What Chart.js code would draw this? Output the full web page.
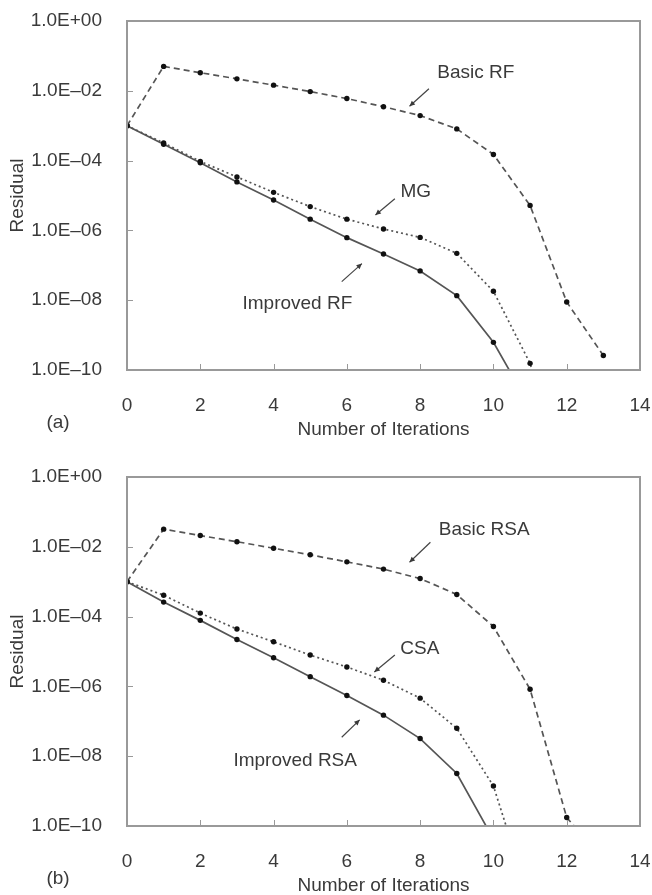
<!DOCTYPE html>
<html>
<head>
<meta charset="utf-8">
<script src="https://cdn.jsdelivr.net/npm/chart.js@4.4.0/dist/chart.umd.min.js"></script>
<style>
  html, body { margin: 0; padding: 0; background: #fff; }
  .panel { position: absolute; left: 0; width: 652px; }
</style>
</head>
<body>
<div class="panel" style="top:0;height:440px"><canvas id="chartA"></canvas></div>
<div class="panel" style="top:456px;height:439px"><canvas id="chartB"></canvas></div>
<script>
// iteration number on the x axis
const iterations = [0, 1, 2, 3, 4, 5, 6, 7, 8, 9, 10, 11, 12, 13];
const xTicks = [0, 2, 4, 6, 8, 10, 12, 14];
const yTicks = [1e0, 1e-2, 1e-4, 1e-6, 1e-8, 1e-10];
const yTickLabels = ['1.0E+00', '1.0E–02', '1.0E–04', '1.0E–06', '1.0E–08', '1.0E–10'];

// (a) residuals
const basicRF = [1e-3, 5.0e-2, 3.3e-2, 2.2e-2, 1.45e-2, 9.5e-3, 6.0e-3, 3.5e-3, 1.95e-3, 8.1e-4, 1.5e-4, 5.2e-6, 8.9e-9, 2.6e-10];
const mgRF = [1e-3, 3.2e-4, 9.5e-5, 3.4e-5, 1.23e-5, 4.8e-6, 2.1e-6, 1.1e-6, 6.3e-7, 2.2e-7, 1.8e-8, 1.55e-10, 2.5e-14];
const improvedRF = [1e-3, 2.95e-4, 8.7e-5, 2.45e-5, 7.4e-6, 2.1e-6, 6.2e-7, 2.1e-7, 6.9e-8, 1.35e-8, 6.2e-10, 9e-12];

// (b) residuals
const basicRSA = [1e-3, 3.2e-2, 2.1e-2, 1.4e-2, 9.1e-3, 5.9e-3, 3.7e-3, 2.3e-3, 1.23e-3, 4.3e-4, 5.2e-5, 8.3e-7, 1.75e-10, 1.1e-11];
const csa = [1e-3, 4.1e-4, 1.26e-4, 4.4e-5, 1.9e-5, 7.9e-6, 3.6e-6, 1.5e-6, 4.6e-7, 6.3e-8, 1.4e-9, 7e-13];
const improvedRSA = [1e-3, 2.6e-4, 7.8e-5, 2.2e-5, 6.6e-6, 1.9e-6, 5.5e-7, 1.5e-7, 3.2e-8, 3.2e-9, 4.2e-11];

const FONT = "'Liberation Sans', Arial, sans-serif";
const TEXT = '#3a3a3a';
Chart.defaults.font.family = FONT;
Chart.defaults.font.size = 19;
Chart.defaults.color = TEXT;

const toPoints = vals => vals.map((v, i) => ({ x: iterations[i], y: v }));

function series(vals, dash) {
    return {
        data: toPoints(vals),
        borderColor: '#555',
        borderWidth: 1.7,
        borderDash: dash,
        pointRadius: 2.7,
        pointBackgroundColor: '#111',
        pointBorderWidth: 0,
        tension: 0
    };
}

function arrow(ctx, x0, y0, x1, y1) {
    ctx.beginPath();
    ctx.moveTo(x0, y0);
    ctx.lineTo(x1, y1);
    ctx.stroke();
    const a = Math.atan2(y1 - y0, x1 - x0), s = 6;
    ctx.beginPath();
    ctx.moveTo(x1, y1);
    ctx.lineTo(x1 - s * Math.cos(a - 0.45), y1 - s * Math.sin(a - 0.45));
    ctx.lineTo(x1 - s * Math.cos(a + 0.45), y1 - s * Math.sin(a + 0.45));
    ctx.closePath();
    ctx.fill();
}

// frame, inward ticks, callouts and panel letter
const decor = {
    id: 'decor',
    afterDraw(chart, args, opts) {
        const { ctx, chartArea: { left, right, top, bottom } } = chart;
        const xs = chart.scales.x, ys = chart.scales.y;
        ctx.save();
        ctx.strokeStyle = '#999';
        ctx.lineWidth = 1;
        xTicks.forEach(v => {
            const px = Math.round(xs.getPixelForValue(v)) + 0.5;
            ctx.beginPath(); ctx.moveTo(px, bottom); ctx.lineTo(px, bottom - 6); ctx.stroke();
        });
        yTicks.forEach(v => {
            const py = Math.round(ys.getPixelForValue(v)) + 0.5;
            ctx.beginPath(); ctx.moveTo(left, py); ctx.lineTo(left + 6, py); ctx.stroke();
        });
        ctx.lineWidth = 2;
        ctx.strokeRect(left, top, right - left, bottom - top);

        ctx.font = '19px ' + FONT;
        ctx.fillStyle = TEXT;
        ctx.textAlign = 'center';
        ctx.textBaseline = 'middle';
        ctx.strokeStyle = '#444';
        ctx.lineWidth = 1.2;
        opts.notes.forEach(n => {
            ctx.fillText(n.text, xs.getPixelForValue(n.at[0]), ys.getPixelForValue(n.at[1]));
            arrow(ctx, xs.getPixelForValue(n.from[0]), ys.getPixelForValue(n.from[1]),
                xs.getPixelForValue(n.to[0]), ys.getPixelForValue(n.to[1]));
        });
        ctx.fillText(opts.panel, left - 69, bottom + 53);
        ctx.restore();
    }
};

function makeChart(id, datasets, notes, panel, bottomSpace, titleGap) {
    return new Chart(document.getElementById(id), {
        type: 'line',
        data: { datasets },
        plugins: [decor],
        options: {
            responsive: true,
            maintainAspectRatio: false,
            animation: false,
            layout: { padding: { top: 21, right: 12, left: 0, bottom: 0 } },
            plugins: {
                legend: { display: false },
                tooltip: { enabled: false },
                decor: { notes, panel }
            },
            scales: {
                x: {
                    type: 'linear',
                    min: 0,
                    max: 14,
                    afterBuildTicks: s => { s.ticks = xTicks.map(v => ({ value: v })); },
                    afterFit: s => { s.height = bottomSpace; s.paddingLeft = 0; s.paddingRight = 0; },
                    grid: { display: false },
                    border: { display: false },
                    ticks: { padding: 16, autoSkip: false, maxRotation: 0 },
                    title: {
                        display: true,
                        text: 'Number of Iterations',
                        font: { size: 19, lineHeight: 1 },
                        padding: { top: 0, bottom: titleGap }
                    }
                },
                y: {
                    type: 'logarithmic',
                    min: 1e-10,
                    max: 1,
                    afterBuildTicks: s => { s.ticks = yTicks.map(v => ({ value: v })); },
                    afterFit: s => { s.width = 127; s.paddingTop = 0; s.paddingBottom = 0; },
                    grid: { display: false },
                    border: { display: false },
                    ticks: {
                        padding: 17,
                        autoSkip: false,
                        callback: v => yTickLabels[yTicks.indexOf(v)]
                    },
                    title: {
                        display: true,
                        text: 'Residual',
                        font: { size: 19, lineHeight: 1 },
                        padding: { top: 8, bottom: 0 }
                    }
                }
            }
        }
    });
}

makeChart('chartA', [
    series(basicRF, [6, 4]),
    series(mgRF, [2, 3]),
    series(improvedRF, [])
], [
    { text: 'Basic RF', at: [9.52, 3.2e-2], from: [8.24, 1.15e-2], to: [7.71, 3.6e-3] },
    { text: 'MG', at: [7.88, 1.26e-5], from: [7.31, 8.1e-6], to: [6.78, 2.75e-6] },
    { text: 'Improved RF', at: [4.65, 8.1e-9], from: [5.86, 3.4e-8], to: [6.41, 1.12e-7] }
], '(a)', 70, 0.5);

makeChart('chartB', [
    series(basicRSA, [6, 4]),
    series(csa, [2, 3]),
    series(improvedRSA, [])
], [
    { text: 'Basic RSA', at: [9.75, 3.0e-2], from: [8.28, 1.35e-2], to: [7.71, 3.6e-3] },
    { text: 'CSA', at: [7.99, 1.2e-5], from: [7.31, 7.9e-6], to: [6.75, 2.6e-6] },
    { text: 'Improved RSA', at: [4.59, 7.4e-9], from: [5.86, 3.5e-8], to: [6.35, 1.1e-7] }
], '(b)', 69, 0);
</script>
</body>
</html>
